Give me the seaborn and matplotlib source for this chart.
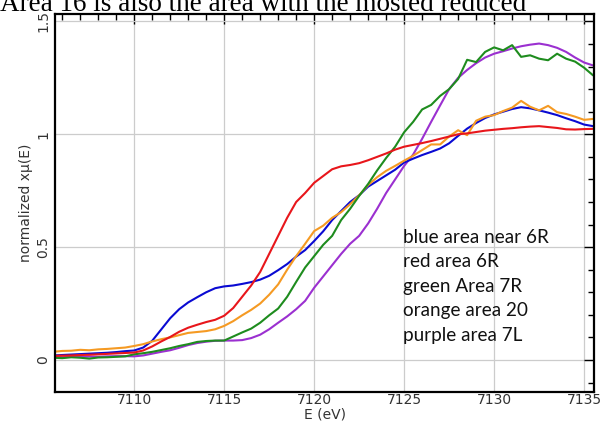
import numpy as np
import pandas as pd
import seaborn as sns
import matplotlib
matplotlib.use("Agg")
from matplotlib import pyplot as plt
from matplotlib.ticker import MultipleLocator

# energy grid (eV)
energy = [7105.5 + 0.5 * i for i in range(61)]

blue = [0.020, 0.022, 0.024, 0.026, 0.028, 0.030, 0.032, 0.035, 0.039, 0.042,
        0.055, 0.085, 0.135, 0.185, 0.225, 0.255, 0.278, 0.300, 0.318, 0.326,
        0.330, 0.337, 0.345, 0.356, 0.373, 0.398, 0.425, 0.458, 0.487, 0.527,
        0.570, 0.620, 0.660, 0.700, 0.730, 0.768, 0.793, 0.818, 0.843, 0.875,
        0.892, 0.908, 0.922, 0.937, 0.960, 0.993, 1.025, 1.050, 1.072, 1.088,
        1.100, 1.112, 1.120, 1.115, 1.106, 1.096, 1.085, 1.071, 1.058, 1.043,
        1.036]
red = [0.018, 0.019, 0.020, 0.022, 0.023, 0.025, 0.027, 0.029, 0.031, 0.033,
       0.042, 0.060, 0.082, 0.102, 0.125, 0.143, 0.156, 0.168, 0.178, 0.196,
       0.230, 0.280, 0.330, 0.390, 0.470, 0.550, 0.630, 0.700, 0.740, 0.785,
       0.815, 0.845, 0.858, 0.864, 0.872, 0.885, 0.900, 0.915, 0.932, 0.945,
       0.953, 0.961, 0.970, 0.980, 0.990, 1.000, 1.004, 1.010, 1.016, 1.020,
       1.024, 1.027, 1.031, 1.034, 1.036, 1.032, 1.028, 1.022, 1.021, 1.023,
       1.024]
green = [0.010, 0.008, 0.012, 0.010, 0.006, 0.011, 0.012, 0.014, 0.016, 0.025,
         0.030, 0.036, 0.044, 0.052, 0.062, 0.070, 0.080, 0.084, 0.086, 0.086,
         0.104, 0.122, 0.139, 0.165, 0.198, 0.228, 0.280, 0.346, 0.410, 0.460,
         0.510, 0.550, 0.620, 0.670, 0.727, 0.780, 0.840, 0.895, 0.945, 1.009,
         1.055, 1.110, 1.130, 1.170, 1.200, 1.245, 1.330, 1.320, 1.365, 1.385,
         1.372, 1.395, 1.343, 1.350, 1.335, 1.328, 1.357, 1.335, 1.322, 1.295,
         1.261]
orange = [0.036, 0.040, 0.041, 0.045, 0.043, 0.047, 0.049, 0.052, 0.055, 0.062,
          0.070, 0.082, 0.092, 0.100, 0.110, 0.120, 0.124, 0.128, 0.136, 0.151,
          0.172, 0.198, 0.222, 0.250, 0.289, 0.335, 0.400, 0.460, 0.515, 0.571,
          0.595, 0.630, 0.655, 0.690, 0.730, 0.775, 0.810, 0.838, 0.860, 0.883,
          0.905, 0.930, 0.955, 0.955, 0.990, 1.018, 0.996, 1.060, 1.078, 1.085,
          1.103, 1.118, 1.148, 1.122, 1.106, 1.126, 1.098, 1.090, 1.078, 1.064,
          1.068]
purple = [0.013, 0.012, 0.014, 0.013, 0.015, 0.014, 0.016, 0.017, 0.017, 0.016,
          0.020, 0.028, 0.036, 0.043, 0.054, 0.066, 0.075, 0.081, 0.085, 0.086,
          0.086, 0.088, 0.097, 0.112, 0.136, 0.165, 0.193, 0.225, 0.262, 0.320,
          0.370, 0.420, 0.470, 0.515, 0.550, 0.605, 0.670, 0.740, 0.800, 0.860,
          0.910, 0.980, 1.055, 1.128, 1.200, 1.250, 1.285, 1.315, 1.340, 1.357,
          1.368, 1.380, 1.390, 1.397, 1.402, 1.395, 1.383, 1.365, 1.340, 1.318,
          1.305]

names = ["purple", "blue", "orange", "green", "red"]
colors = ["#9b30d0", "#0a0ad2", "#f59a23", "#1e8c1e", "#e8161b"]
legend_lines = ["blue area near 6R", "red area 6R", "green Area 7R",
                "orange area 20", "purple area 7L"]
title = "Area 16 is also the area with the mosted reduced"

series = {"blue": blue, "red": red, "green": green, "orange": orange, "purple": purple}
df = pd.concat([pd.DataFrame({"E": energy, "mu": series[n], "sample": n}) for n in names])

sns.set_style("white")
fig = plt.figure(figsize=(6.02, 4.29), dpi=100)
ax = fig.add_axes([0.0914, 0.0862, 0.8953, 0.8812])

sns.lineplot(data=df, x="E", y="mu", hue="sample", hue_order=names,
             palette=dict(zip(names, colors)), estimator=None, sort=False,
             linewidth=1.5, legend=False, ax=ax)

ax.set_xlim(7105.6, 7135.55)
ax.set_ylim(-0.142, 1.533)
ax.xaxis.set_major_locator(MultipleLocator(5))
ax.xaxis.set_minor_locator(MultipleLocator(1))
ax.yaxis.set_minor_locator(MultipleLocator(0.1))
ax.set_yticks([0, 0.5, 1, 1.5])
ax.set_yticklabels(["0", "0.5", "1", "1.5"], rotation=90, va="center")
ax.grid(True, which="major", color="#cccccc", linewidth=0.9)
ax.set_axisbelow(True)
ax.tick_params(which="both", direction="in", top=True, right=True, colors="black",
               labelcolor="#333333", labelsize=10)
ax.tick_params(which="major", length=7, width=1)
ax.tick_params(which="minor", length=4, width=1)
ax.tick_params(axis="x", which="major", pad=1)
for s in ax.spines.values():
    s.set_linewidth(1.6)
    s.set_color("black")
ax.set_xlabel("E (eV)", fontsize=10, color="#333333", labelpad=0)
ax.set_ylabel("normalized x\u03bc(E)", fontsize=10, color="#333333", labelpad=2)

for i, t in enumerate(legend_lines):
    ax.text(0.6456, 0.410 - i * 0.0648, t, transform=ax.transAxes, va="center",
            ha="left", fontsize=13.6, family=["Lato", "DejaVu Sans"], color="#111111")

# title line of the slide, cut off at the top edge
fig.text(0.0, 0.9744, title, ha="left", va="baseline", fontsize=19.5,
         family=["Liberation Serif", "DejaVu Serif"], color="black")

fig.savefig("out.png", dpi=100)
